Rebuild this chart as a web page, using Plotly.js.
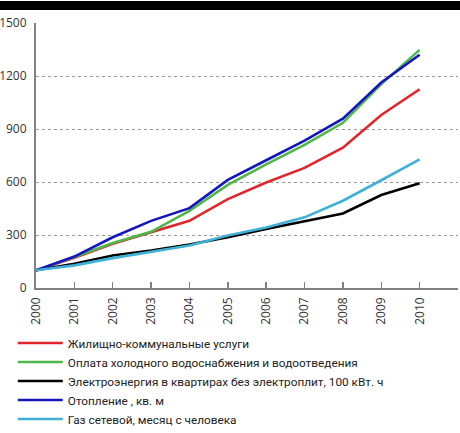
<!DOCTYPE html>
<html>
<head>
<meta charset="utf-8">
<script src="https://cdn.plot.ly/plotly-3.0.1.min.js"></script>
<style>html,body{margin:0;padding:0;background:#fff;}#chart{width:460px;height:433px;}</style>
</head>
<body>
<div id="chart"></div>
<script>
var years = [2000, 2001, 2002, 2003, 2004, 2005, 2006, 2007, 2008, 2009, 2010];
var seriesNames = [
  "Жилищно-коммунальные услуги",
  "Оплата холодного водоснабжения и водоотведения",
  "Электроэнергия в квартирах без электроплит, 100 кВт. ч",
  "Отопление , кв. м",
  "Газ сетевой, месяц с человека"
];
var housing = [100, 171, 250, 315, 380, 503, 597, 680, 794, 979, 1125];
var water   = [100, 175, 255, 318, 437, 584, 700, 810, 935, 1154, 1348];
var electricity = [100, 137, 184, 212, 246, 287, 334, 376, 422, 526, 593];
var heating = [100, 178, 287, 380, 452, 612, 723, 834, 959, 1163, 1320];
var gas     = [100, 128, 169, 203, 240, 297, 343, 400, 494, 610, 728];
var yTicks = [0, 300, 600, 900, 1200, 1500];
var colors = ["#e0262a", "#4db74a", "#000000", "#1515c0", "#3fb0d6"];

var allSeries = [housing, water, electricity, heating, gas];
var traces = allSeries.map(function (vals, i) {
  return {
    x: years, y: vals, type: "scatter", mode: "lines",
    name: seriesNames[i],
    line: {color: colors[i], width: 2.6}
  };
});

var layout = {
  width: 460, height: 433,
  margin: {l: 36, r: 2, t: 23, b: 145},
  paper_bgcolor: "#fff", plot_bgcolor: "#fff",
  showlegend: true,
  legend: {
    x: -0.055, xanchor: "left", xref: "paper",
    y: 0.2413, yanchor: "top", yref: "container",
    font: {family: "Roboto", size: 11.8, color: "#222"},
    itemwidth: 45, tracegroupgap: 0, bgcolor: "rgba(0,0,0,0)"
  },
  xaxis: {
    range: [2000, 2011], tickvals: years, ticktext: years.map(String),
    tickangle: -90, ticks: "inside", ticklen: 6, tickcolor: "#808080", tickwidth: 1.5,
    showgrid: false, zeroline: false, ticklabelstandoff: 3,
    showline: true, linecolor: "#808080", linewidth: 1.5,
    tickfont: {family: "Open Sans", size: 12, color: "#333"}
  },
  yaxis: {
    range: [0, 1500], tickvals: yTicks, ticktext: yTicks.map(String),
    showgrid: true, gridcolor: "#999", griddash: "dot", gridwidth: 1,
    zeroline: false, showline: true, linecolor: "#808080", linewidth: 2,
    ticks: "", ticklabelstandoff: 5,
    tickfont: {family: "Open Sans", size: 12, color: "#333"}
  },
  shapes: [{
    type: "rect", xref: "paper", yref: "paper",
    x0: -0.09, x1: 1.01, y0: 1.049, y1: 1.083,
    fillcolor: "#000", line: {width: 0}
  }]
};

Plotly.newPlot("chart", traces, layout, {displayModeBar: false, staticPlot: true});
</script>
</body>
</html>
